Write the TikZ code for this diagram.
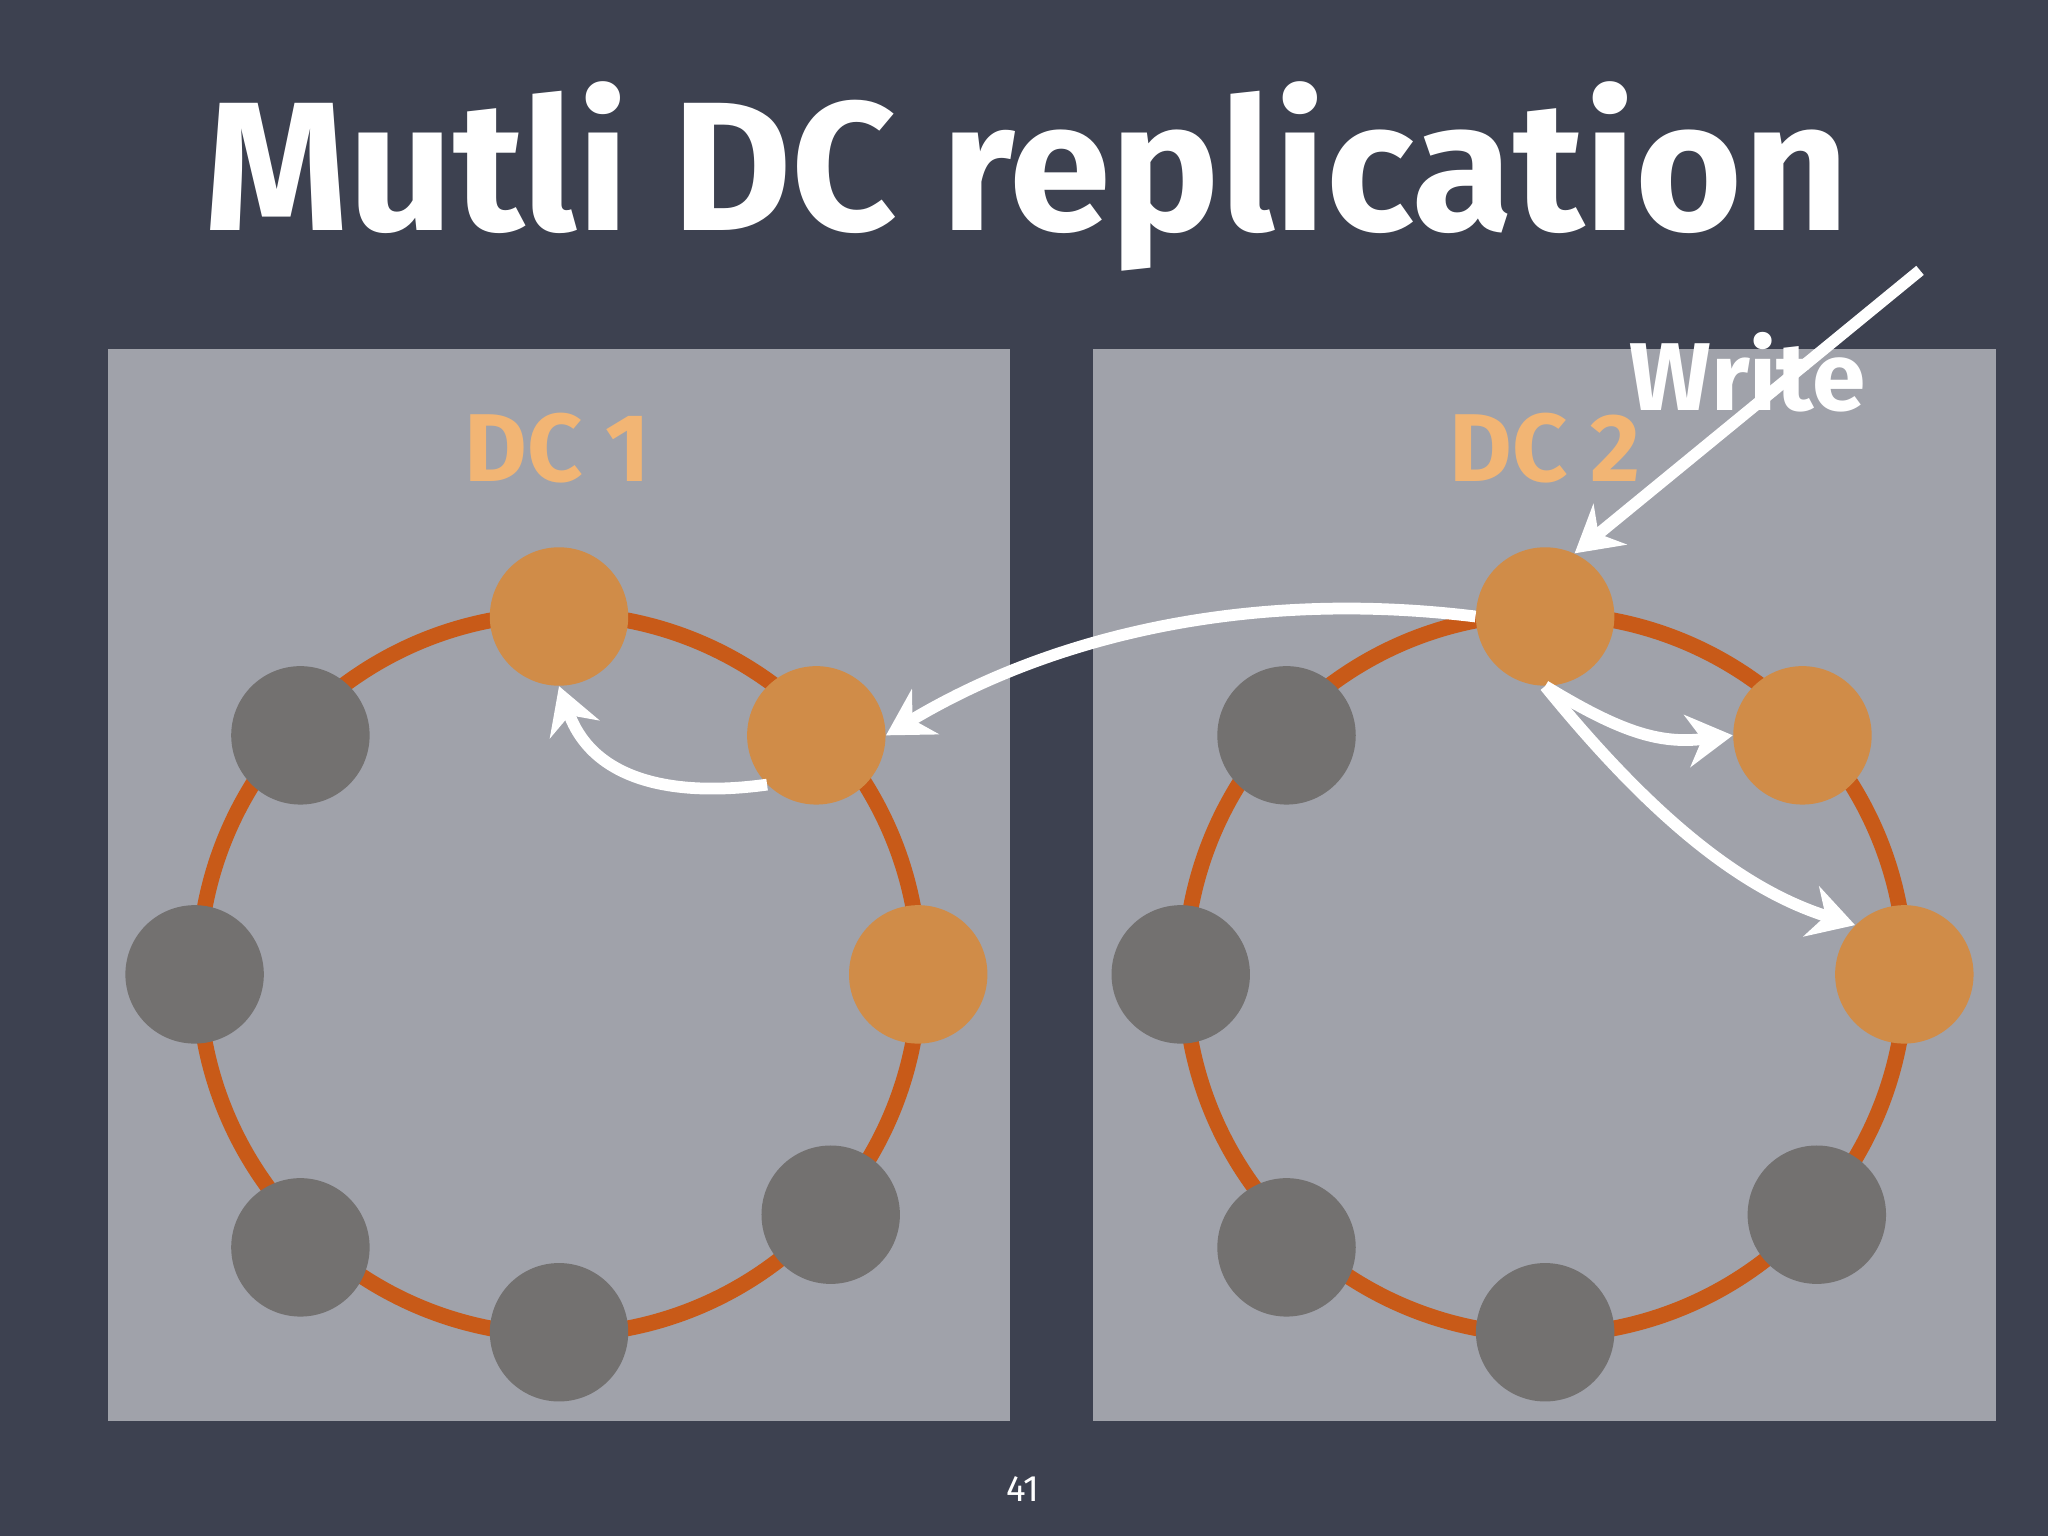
\documentclass[tikz,border=0pt]{standalone}
\usepackage{fontspec}
\setmainfont{Fira Sans}
\usetikzlibrary{arrows.meta}
\definecolor{bg}{HTML}{3D4150}
\definecolor{panel}{HTML}{A0A2AA}
\definecolor{ring}{HTML}{C85A18}
\definecolor{onode}{HTML}{D08C48}
\definecolor{gnode}{HTML}{737170}
\definecolor{lab}{HTML}{F2B574}
\begin{document}
\begin{tikzpicture}[x=0.02cm,y=-0.02cm,
  panelbox/.style={fill=panel,draw=none},
  hot/.style={circle,fill=onode,minimum size=2.12cm,inner sep=0pt},
  cold/.style={circle,fill=gnode,minimum size=2.12cm,inner sep=0pt},
  warrow/.style={draw=white,line width=1.8mm,-{Stealth[length=7mm,width=8mm]}},
  dclab/.style={text=lab,font=\fontsize{42}{44}\selectfont\bfseries}]
\fill[bg] (0,0) rectangle (1568,1176);
\useasboundingbox (0,0) rectangle (1568,1176);
\node[text=white,font=\fontsize{80}{84}\selectfont\bfseries] (title) at (786,135) {Mutli DC replication};
\fill[panelbox] (83,267) rectangle (773,1088);
\fill[panelbox] (837,267) rectangle (1528,1088);
\node[dclab] (dc1) at (427,343) {DC 1};
\node[dclab] (dc2) at (1183,343) {DC 2};
\foreach \o/\p in {0/a,755/b}{
  \draw[ring,line width=2.4mm] (428+\o,746) circle[radius=276];
  \node[hot] (\p1) at (428+\o,472) {};
  \node[hot] (\p2) at (625+\o,563) {};
  \node[hot] (\p3) at (703+\o,746) {};
  \node[cold] (\p4) at (636+\o,930) {};
  \node[cold] (\p5) at (428+\o,1020) {};
  \node[cold] (\p6) at (230+\o,955) {};
  \node[cold] (\p7) at (149+\o,746) {};
  \node[cold] (\p8) at (230+\o,563) {};
}
\node[text=white,font=\fontsize{42}{44}\selectfont\bfseries] (write) at (1338,285) {Write};
\coordinate (src) at (1470,207);
\draw[warrow] (src) -- (b1.65);
\draw[warrow] (b1.west) .. controls (950,450) and (800,490) .. (a2.east);
\draw[warrow] (a2.south west) .. controls (520,610) and (455,600) .. (a1.south);
\draw[warrow] (b1.south) .. controls (1240,560) and (1270,570) .. (b2.west);
\draw[warrow] (b1.south) .. controls (1260,620) and (1330,680) .. (b3.north west);
\node[text=white,font=\fontsize{16}{18}\selectfont] (pg) at (783,1140) {41};
\end{tikzpicture}
\end{document}
